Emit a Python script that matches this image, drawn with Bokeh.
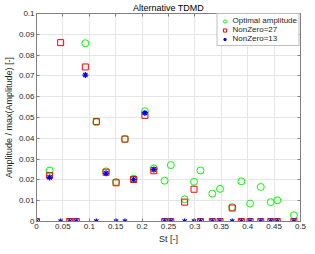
import math
from bokeh.plotting import figure
from bokeh.models import (Range1d, FixedTicker, CustomJSTickFormatter, LinearAxis,
                          Legend, LegendItem, ColumnDataSource)
from bokeh.embed import file_html
from bokeh.resources import INLINE

NAN = float("nan")

# Strouhal numbers of the modes
st = [0.0, 0.0249, 0.0457, 0.0629, 0.0753, 0.0925, 0.1133, 0.1317, 0.1507, 0.1675,
      0.1840, 0.2053, 0.2222, 0.2426, 0.2544, 0.2806, 0.2983, 0.3105, 0.3330, 0.3476,
      0.3707, 0.3880, 0.4045, 0.4247, 0.4436, 0.4560, 0.4875]

optimal_amp = [NAN, 0.0245, NAN, NAN, NAN, 0.0857, 0.0477, 0.0241, 0.0190, 0.0397,
               0.0206, 0.0530, 0.0255, 0.0196, 0.0271, 0.0107, 0.0191, 0.0245, 0.0134, 0.0157,
               0.0069, 0.0193, 0.0086, 0.0166, 0.0093, 0.0102, 0.0030]

nonzero27 = [0.0, 0.0221, 0.0860, 0.0, 0.0, 0.0743, 0.0481, 0.0237, 0.0186, 0.0396,
             0.0202, 0.0510, 0.0244, 0.0, 0.0, 0.0093, 0.0155, 0.0, 0.0, 0.0,
             0.0065, 0.0, 0.0, 0.0, 0.0, 0.0, 0.0]

nonzero13 = [0.0, 0.0212, 0.0, 0.0, 0.0, 0.0704, 0.0, 0.0232, 0.0, 0.0,
             0.0202, 0.0522, 0.0250, 0.0, 0.0, 0.0, 0.0, 0.0, 0.0, 0.0,
             0.0, 0.0, 0.0, 0.0, 0.0, 0.0, 0.0]

x_ticks = [0.0, 0.05, 0.1, 0.15, 0.2, 0.25, 0.3, 0.35, 0.4, 0.45, 0.5]
y_ticks = [0.0, 0.01, 0.02, 0.03, 0.04, 0.05, 0.06, 0.07, 0.08, 0.09, 0.1]

FONT = "Liberation Sans"
TXT = "#262626"
AX = "#7f7f7f"

p = figure(width=307, height=246, output_backend="svg", toolbar_location=None,
           x_range=Range1d(0, 0.5), y_range=Range1d(0, 0.1),
           title="Alternative TDMD", min_border_left=0, min_border_right=7,
           min_border_top=0, min_border_bottom=0)
p.background_fill_color = "white"
p.border_fill_color = "white"
p.outline_line_color = AX
p.outline_line_width = 1

p.title.text_font = FONT
p.title.text_font_size = "9px"
p.title.text_font_style = "normal"
p.title.text_color = "black"
p.title.align = "center"
p.title.standoff = 1
p.title.offset = 0

fmt = CustomJSTickFormatter(code="return String(Number(tick.toFixed(4)));")

for ax, ticks in ((p.xaxis[0], x_ticks), (p.yaxis[0], y_ticks)):
    ax.ticker = FixedTicker(ticks=ticks)
    ax.formatter = fmt
    ax.major_tick_in = 3
    ax.major_tick_out = 0
    ax.minor_tick_line_color = None
    ax.axis_line_color = AX
    ax.major_tick_line_color = AX
    ax.major_label_text_font = FONT
    ax.major_label_text_font_size = "8px"
    ax.major_label_text_color = TXT
    ax.axis_label_text_font = FONT
    ax.axis_label_text_font_size = "9px"
    ax.axis_label_text_font_style = "normal"
    ax.axis_label_text_color = TXT
    ax.major_label_standoff = 2
    ax.axis_label_standoff = 2

p.xaxis.axis_label = "St [-]"
p.yaxis.axis_label = "Amplitude / max(Amplitude) [-]"

# ticks on right / top (MATLAB box), without labels
blank = CustomJSTickFormatter(code="return '';")
for loc, ticks in (("right", y_ticks), ("above", x_ticks)):
    a = LinearAxis(ticker=FixedTicker(ticks=ticks), formatter=blank)
    a.major_tick_in = 3
    a.major_tick_out = 0
    a.minor_tick_line_color = None
    a.axis_line_color = AX
    a.major_tick_line_color = AX
    a.major_label_text_color = None
    a.major_label_standoff = 0
    p.add_layout(a, loc)

p.xgrid.ticker = FixedTicker(ticks=x_ticks)
p.ygrid.ticker = FixedTicker(ticks=y_ticks)
p.grid.grid_line_color = "#e6e6e6"
p.grid.grid_line_width = 1

src = ColumnDataSource(dict(st=st, opt=optimal_amp, n27=nonzero27, n13=nonzero13))

r_opt = p.scatter("st", "opt", source=src, marker="circle", size=7, fill_color=None,
                  line_color="#00ff00", line_width=1)
r_27 = p.scatter("st", "n27", source=src, marker="square", size=6, fill_color=None,
                 line_color="#ff0000", line_width=1)
r_13 = p.scatter("st", "n13", source=src, marker="asterisk", size=6,
                 line_color="#0000ff", line_width=1.2)

legend = Legend(items=[LegendItem(label="Optimal amplitude", renderers=[r_opt]),
                       LegendItem(label="NonZero=27", renderers=[r_27]),
                       LegendItem(label="NonZero=13", renderers=[r_13])],
                location="top_right")
legend.label_text_font = FONT
legend.label_text_font_size = "8px"
legend.label_text_color = TXT
legend.label_height = 8
legend.label_standoff = 3
legend.glyph_height = 8
legend.glyph_width = 10
legend.spacing = 0
legend.padding = 2
legend.margin = 0
legend.border_line_color = AX
legend.border_line_width = 1
legend.background_fill_color = "white"
p.add_layout(legend)

open("out.html", "w").write(file_html(p, INLINE))
